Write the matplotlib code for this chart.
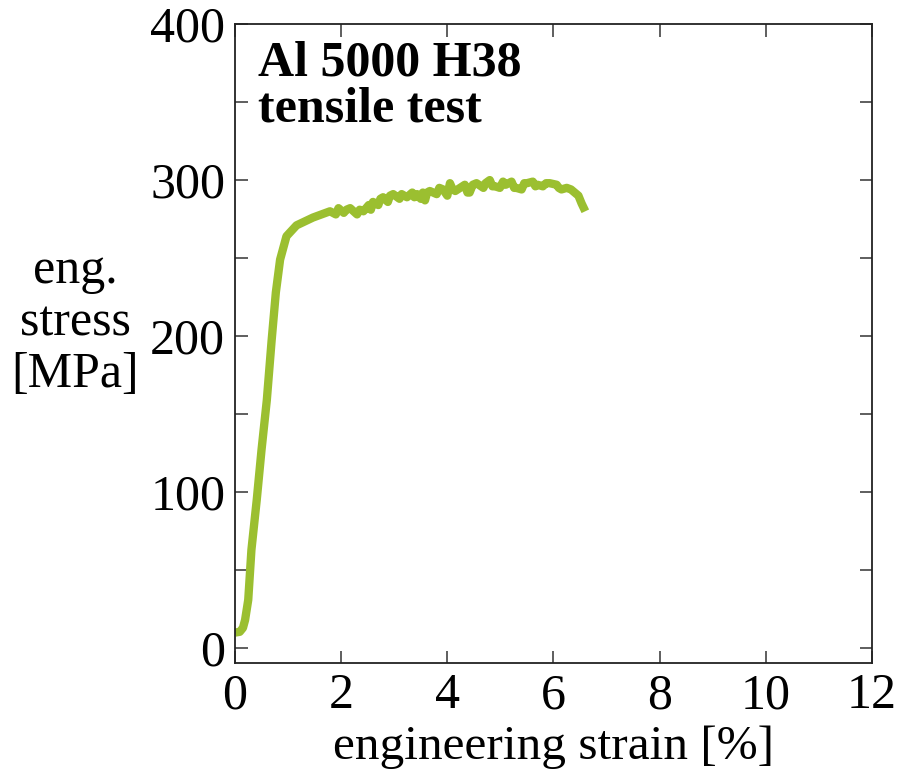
import numpy as np
import matplotlib
matplotlib.use("Agg")
import matplotlib.pyplot as plt

# engineering strain [%] and engineering stress [MPa]
strain = [0.0, 0.09, 0.15, 0.19, 0.25, 0.31, 0.41, 0.50, 0.60, 0.69, 0.77, 0.85, 0.97,
          1.16, 1.47, 1.79, 1.90, 1.95, 2.05, 2.10, 2.17, 2.30, 2.35, 2.42, 2.52, 2.56,
          2.60, 2.70, 2.74, 2.79, 2.88, 2.92, 2.98, 3.10, 3.14, 3.24, 3.34, 3.38, 3.43,
          3.50, 3.54, 3.58, 3.62, 3.67, 3.80, 3.85, 3.92, 4.00, 4.05, 4.10, 4.15, 4.24,
          4.33, 4.38, 4.42, 4.48, 4.55, 4.68, 4.72, 4.80, 4.85, 4.90, 4.99, 5.05, 5.10,
          5.21, 5.26, 5.30, 5.40, 5.45, 5.50, 5.61, 5.66, 5.70, 5.80, 5.86, 5.93, 6.06,
          6.10, 6.15, 6.25, 6.33, 6.40, 6.47, 6.53, 6.60]
stress = [10, 10.5, 13, 18, 31, 63, 95, 127, 159, 197, 228, 249, 264,
          271, 276, 280, 278, 282, 279, 281, 282, 278, 281, 280, 284, 281,
          286, 284, 288, 289, 286, 290, 291, 288, 291, 289, 292, 289, 291,
          288, 292, 287, 292, 293, 291, 295, 294, 290, 298, 294, 293, 295,
          297, 292, 292, 297, 298, 295, 298, 300, 296, 296, 295, 299, 297,
          299, 295, 295, 294, 298, 298, 299, 296, 297, 296, 298, 298, 297,
          295, 294, 295, 294, 292, 290, 285, 280]

xticks = [0, 2, 4, 6, 8, 10, 12]
yticks = [0, 100, 200, 300, 400]

plt.rcParams.update({
    "font.family": "Liberation Serif",
    "font.size": 36,
})

fig = plt.figure(figsize=(9.02, 7.78), dpi=100)
ax = fig.add_axes([0.2605, 0.1478, 0.7062, 0.8213])

ax.plot(strain, stress, color="#9BBF30", linewidth=6, solid_joinstyle="round",
        solid_capstyle="butt")

ax.set_xlim(0, 12)
ax.set_ylim(-9.5, 400)
ax.set_xticks(xticks)
ax.set_yticks(yticks)
ax.set_yticks(np.arange(0, 401, 50), minor=True)
ax.tick_params(which="both", direction="in", top=True, right=True,
               length=9, width=1.1, color="#333333", labelsize=36, pad=7)
for s in ax.spines.values():
    s.set_color("#222222")
    s.set_linewidth(1.3)

ax.set_xlabel("engineering strain [%]", fontsize=35.5, labelpad=4)
fig.text(75 / 902, 1 - 323 / 778, "eng.\nstress\n[MPa]", ha="center", va="center",
         fontsize=36, linespacing=1.15)

ax.text(0.036, 0.975, "Al 5000 H38\ntensile test", transform=ax.transAxes,
        ha="left", va="top", fontsize=36, fontweight="bold", linespacing=1.0)

fig.savefig("out.png", dpi=100)
